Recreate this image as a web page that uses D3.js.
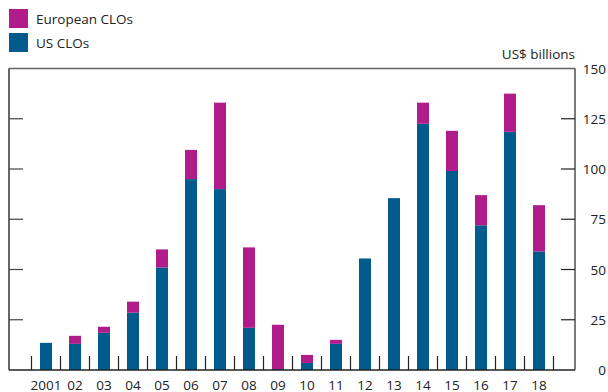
<!DOCTYPE html>
<html><head><meta charset="utf-8">
<script src="https://cdn.jsdelivr.net/npm/d3@7"></script>
<style>body{margin:0;background:#fff}svg{display:block;font-family:"Open Sans","Noto Sans",sans-serif}</style>
</head><body><svg id="c" width="608" height="392"></svg>
<script>
const categories = ["2001","02","03","04","05","06","07","08","09","10","11","12","13","14","15","16","17","18"];
const usCLOs = [13.5,13,18.5,28.5,51,95,90,21,0.5,3.5,13,55.5,85.5,122.5,99,72,118.5,59];
const euroCLOs = [0,4,3,5.5,9,14.5,43,40,22,4,2,0,0,10.5,20,15,19,23];
const yTicks = [0,25,50,75,100,125,150];
const seriesNames = ["European CLOs","US CLOs"];
const colors = {us:"#005A8C", eu:"#B01C8A"};

const svg = d3.select("#c");
const L=9, R=575, T=68.5, B=370;
const y = d3.scaleLinear().domain([0,150]).range([B,T]);
const x = d3.scaleBand().domain(categories).range([31.5,553.5]).paddingInner(0).paddingOuter(0);
const bw = 12;

// bars
const g = svg.append("g");
categories.forEach((c,i)=>{
  const cx = x(c)+x.bandwidth()/2;
  g.append("rect").attr("x",cx-bw/2).attr("width",bw)
    .attr("y",y(usCLOs[i])).attr("height",B-y(usCLOs[i])).attr("fill",colors.us);
  if(euroCLOs[i]>0) g.append("rect").attr("x",cx-bw/2).attr("width",bw)
    .attr("y",y(usCLOs[i]+euroCLOs[i])).attr("height",y(usCLOs[i])-y(usCLOs[i]+euroCLOs[i])).attr("fill",colors.eu);
});

// frame
svg.append("line").attr("x1",L).attr("x2",R).attr("y1",T).attr("y2",T).attr("stroke","#666").attr("stroke-width",1.5);
svg.append("line").attr("x1",L).attr("x2",L).attr("y1",T).attr("y2",B).attr("stroke","#333").attr("stroke-width",1.5);
svg.append("line").attr("x1",R).attr("x2",R).attr("y1",T).attr("y2",B).attr("stroke","#222").attr("stroke-width",1.2);
svg.append("line").attr("x1",L).attr("x2",R).attr("y1",B).attr("y2",B).attr("stroke","#222").attr("stroke-width",1.5);

// y ticks both sides
yTicks.filter(t=>t>0&&t<150).forEach(t=>{
  svg.append("line").attr("x1",L).attr("x2",L+14).attr("y1",y(t)).attr("y2",y(t)).attr("stroke","#444").attr("stroke-width",1.2);
  svg.append("line").attr("x1",R-14).attr("x2",R).attr("y1",y(t)).attr("y2",y(t)).attr("stroke","#222").attr("stroke-width",1.2);
});
// right axis labels
const yAxis = d3.axisRight(y).tickValues(yTicks).tickSize(0).tickPadding(0);
const ya = svg.append("g").attr("transform",`translate(606,0)`).call(yAxis);
ya.select(".domain").remove();
ya.selectAll("text").attr("text-anchor","end").attr("x",0).attr("dy","0.35em")
  .style("font-family",'"Open Sans","Noto Sans",sans-serif').style("font-size","13.5px").attr("fill","#222");

// x separators
const bounds = categories.map(c=>x(c)).concat([x(categories[categories.length-1])+x.bandwidth()]);
bounds.forEach(b=>{
  svg.append("line").attr("x1",b).attr("x2",b).attr("y1",B-14).attr("y2",B).attr("stroke","#222").attr("stroke-width",1.2);
});
// x labels
const xAxis = d3.axisBottom(x).tickSize(0).tickPadding(0);
const xa = svg.append("g").attr("transform",`translate(0,${B})`).call(xAxis);
xa.select(".domain").remove();
xa.selectAll("text").attr("y",19.5).attr("dy",0)
  .style("font-family",'"Open Sans","Noto Sans",sans-serif').style("font-size","13.5px").attr("fill","#222");

// unit label
svg.append("text").attr("x",R).attr("y",59).attr("text-anchor","end").attr("font-size",13.5).attr("fill","#222").text("US$ billions");

// legend
const leg = [{n:seriesNames[0],c:colors.eu,y:9},{n:seriesNames[1],c:colors.us,y:33}];
leg.forEach(l=>{
  svg.append("rect").attr("x",9).attr("y",l.y).attr("width",19).attr("height",19).attr("fill",l.c);
  svg.append("text").attr("x",36).attr("y",l.y+15).attr("font-size",13.5).attr("fill","#222").text(l.n);
});
</script></body></html>
